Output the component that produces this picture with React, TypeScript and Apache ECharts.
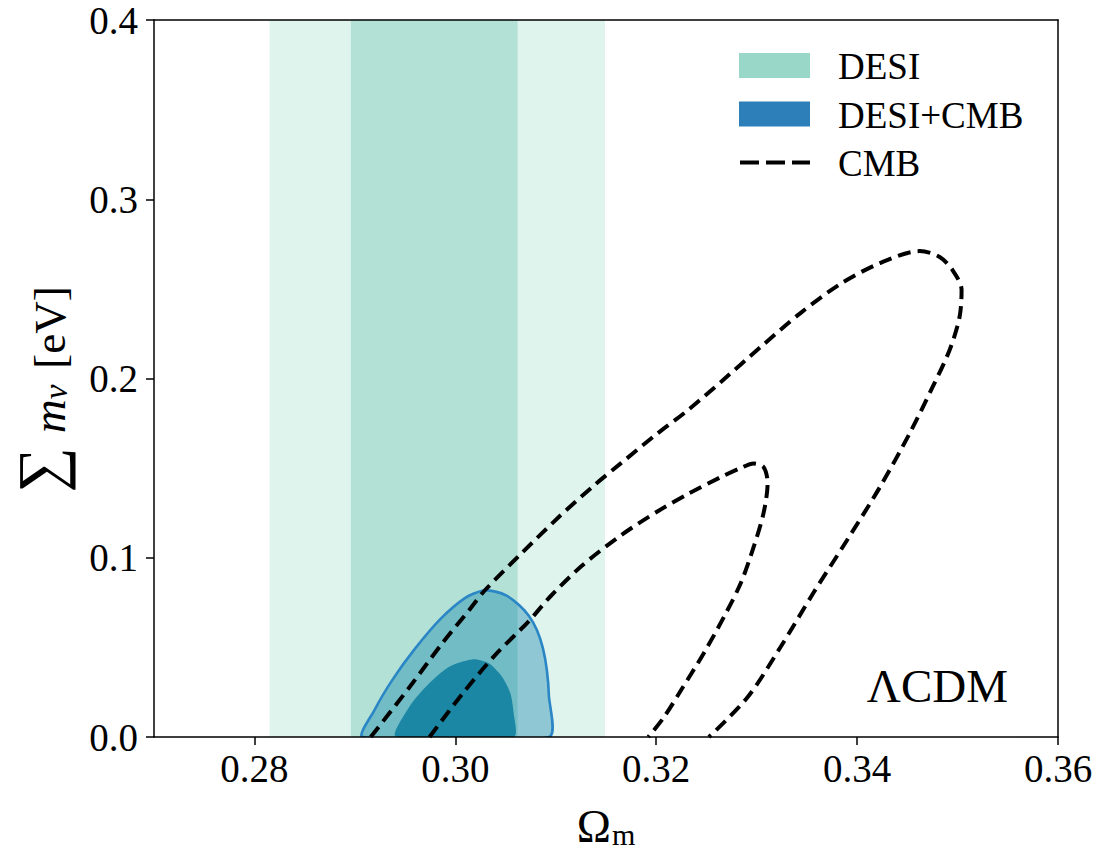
import React, { useEffect, useRef } from "react";
import * as echarts from "echarts";

// ---- axis ranges & ticks ----
const X_MIN = 0.27;
const X_MAX = 0.36;
const Y_MIN = 0.0;
const Y_MAX = 0.4;
const X_TICKS = [0.28, 0.3, 0.32, 0.34, 0.36];

// ---- DESI (BAO only) Omega_m bands: [low, high] ----
const desi2Sigma = [0.2815, 0.3149];
const desi1Sigma = [0.2896, 0.3062];

// ---- DESI+CMB contours [Omega_m, sum m_nu] ----
const desiCmbOuter: number[][] = [
  [0.29079, 0.0], [0.29195, 0.015], [0.29375, 0.032], [0.29595, 0.049],
  [0.29855, 0.066], [0.30095, 0.0775], [0.30267, 0.0816], [0.30399, 0.0811],
  [0.30515, 0.0787], [0.30634, 0.0736], [0.30733, 0.0675], [0.30812, 0.0597],
  [0.30871, 0.0497], [0.30911, 0.0374], [0.30931, 0.0234], [0.30931, 0.0],
];
const desiCmbInner: number[][] = [
  [0.29409, 0.0], [0.29542, 0.0169], [0.29706, 0.0281], [0.29938, 0.0392],
  [0.30168, 0.0433], [0.30333, 0.0411], [0.30465, 0.0336], [0.30548, 0.0244],
  [0.30581, 0.0132], [0.30581, 0.0],
];

// ---- CMB-only contours (dashed) ----
const cmbOuter: number[][] = [
  [0.29158, 0.0], [0.29545, 0.0279], [0.29871, 0.0524], [0.30139, 0.0709],
  [0.30297, 0.082], [0.30663, 0.1027], [0.3103, 0.1227], [0.31386, 0.1406],
  [0.31653, 0.1529], [0.3198, 0.1679], [0.32317, 0.1824], [0.32644, 0.1981],
  [0.3304, 0.2176], [0.33436, 0.2365], [0.33832, 0.2527], [0.34228, 0.2644],
  [0.34624, 0.2711], [0.34822, 0.2678], [0.3495, 0.2605], [0.3504, 0.2494],
  [0.3502, 0.2343], [0.34921, 0.2159], [0.34752, 0.1953], [0.34525, 0.1696],
  [0.34228, 0.1395], [0.33901, 0.1099], [0.33564, 0.0803], [0.33238, 0.0502],
  [0.32911, 0.0223], [0.32525, 0.0],
];
const cmbInner: number[][] = [
  [0.29743, 0.0], [0.30069, 0.024], [0.30396, 0.0457], [0.30733, 0.0647],
  [0.30941, 0.0781], [0.31257, 0.0954], [0.31653, 0.1127], [0.3202, 0.1261],
  [0.32317, 0.1356], [0.32644, 0.145], [0.32842, 0.1501], [0.3297, 0.1526],
  [0.33069, 0.1506], [0.33109, 0.1417], [0.33069, 0.125], [0.3297, 0.106],
  [0.32842, 0.0859], [0.32673, 0.0669], [0.32475, 0.0469], [0.32248, 0.0262],
  [0.32079, 0.0112], [0.31921, 0.0],
];

const legendItems = [
  { name: "DESI", kind: "rect", color: "#99d8c9" },
  { name: "DESI+CMB", kind: "rect", color: "#2c7fb8" },
  { name: "CMB", kind: "dash", color: "#000000" },
];
const modelLabel = "ΛCDM";

const FONT = "'Liberation Serif', 'DejaVu Serif', serif";

function bandSeries(range: number[], color: string, z: number) {
  return {
    type: "custom",
    z,
    clip: true,
    silent: true,
    data: [range],
    renderItem: (_p: any, api: any) => {
      const a = api.coord([api.value(0), Y_MAX]);
      const b = api.coord([api.value(1), Y_MIN]);
      return {
        type: "rect",
        shape: { x: a[0], y: a[1], width: b[0] - a[0], height: b[1] - a[1] },
        style: { fill: color },
      };
    },
  };
}

function contourSeries(pts: number[][], style: any, z: number) {
  return {
    type: "custom",
    z,
    clip: true,
    silent: true,
    data: pts.slice(0, 1),
    renderItem: (_p: any, api: any) => ({
      type: "polygon",
      shape: { points: pts.map((p) => api.coord(p)), smooth: 0.25 },
      style,
    }),
  };
}

function dashedSeries(pts: number[][]) {
  return {
    type: "line",
    z: 5,
    data: pts,
    smooth: 0.3,
    symbol: "none",
    silent: true,
    clip: true,
    lineStyle: { color: "#000", width: 4, type: [13, 7] },
  };
}

export default function App() {
  const ref = useRef<HTMLDivElement>(null);
  useEffect(() => {
    if (!ref.current) return;
    const chart = echarts.init(ref.current, undefined, { renderer: "svg" });
    const axisCommon = {
      min: X_MIN,
      max: X_MAX,
      type: "value",
      z: 10,
      splitLine: { show: false },
      axisLine: { show: true, onZero: false, lineStyle: { color: "#000", width: 1.5 } },
    };
    const legendGraphics: any[] = [];
    legendItems.forEach((it, i) => {
      const cy = 65.5 + i * 48.5;
      if (it.kind === "rect") {
        legendGraphics.push({
          type: "rect",
          shape: { x: 739, y: cy - 12.5, width: 71, height: 25 },
          style: { fill: it.color },
        });
      } else {
        legendGraphics.push({
          type: "line",
          shape: { x1: 740, y1: cy, x2: 810, y2: cy },
          style: { stroke: it.color, lineWidth: 4, lineDash: [19, 7] },
        });
      }
      legendGraphics.push({
        type: "text",
        x: 838,
        y: cy + 1,
        style: {
          text: it.name,
          fontFamily: FONT,
          fontSize: 37,
          fill: "#000",
          verticalAlign: "middle",
          align: "left",
        },
      });
    });
    legendGraphics.push({
      type: "text",
      x: 1008,
      y: 686,
      style: {
        text: modelLabel,
        fontFamily: FONT,
        fontSize: 47,
        fill: "#000",
        verticalAlign: "middle",
        align: "right",
      },
    });

    chart.setOption({
      animation: false,
      backgroundColor: "#fff",
      grid: { left: 150, right: 58, top: 20, bottom: 123, containLabel: false },
      xAxis: [
        {
          ...axisCommon,
          position: "bottom",
          name: "{o|Ω}{s|m}",
          nameLocation: "middle",
          nameGap: 60,
          nameTextStyle: {
            rich: {
              o: { fontFamily: FONT, fontSize: 46, color: "#000", verticalAlign: "bottom", lineHeight: 52 },
              s: { fontFamily: FONT, fontSize: 30, color: "#000", verticalAlign: "bottom", lineHeight: 42, padding: [0, 0, 0, 1] },
            },
          },
          axisTick: { show: true, customValues: X_TICKS, length: 8, lineStyle: { color: "#000", width: 1.5 } },
          axisLabel: {
            show: true,
            customValues: X_TICKS,
            margin: 12,
            fontFamily: FONT,
            fontSize: 39,
            color: "#000",
            formatter: (v: number) => v.toFixed(2),
          },
        },
        {
          ...axisCommon,
          position: "top",
          axisTick: { show: false },
          axisLabel: { show: false },
        },
      ],
      yAxis: [
        {
          ...axisCommon,
          min: Y_MIN,
          max: Y_MAX,
          position: "left",
          interval: 0.1,
          name: "{sum|∑}{m|m}{sub|ν}{t|[eV]}",
          nameLocation: "middle",
          nameRotate: 90,
          nameGap: 82,
          nameTextStyle: {
            padding: [0, 22, 0, 0],
            rich: {
              sum: { fontFamily: FONT, fontSize: 64, color: "#000", verticalAlign: "bottom", lineHeight: 64, padding: [0, 14, 0, 0] },
              m: { fontFamily: FONT, fontSize: 47, fontStyle: "italic", color: "#000", verticalAlign: "bottom", lineHeight: 57 },
              sub: { fontFamily: FONT, fontSize: 33, fontStyle: "italic", color: "#000", verticalAlign: "bottom", lineHeight: 46, padding: [0, 16, 0, 0] },
              t: { fontFamily: FONT, fontSize: 45, color: "#000", verticalAlign: "bottom", lineHeight: 57 },
            },
          },
          axisTick: { show: true, length: 8, lineStyle: { color: "#000", width: 1.5 } },
          axisLabel: {
            show: true,
            margin: 16,
            fontFamily: FONT,
            fontSize: 39,
            color: "#000",
            formatter: (v: number) => v.toFixed(1),
          },
        },
        {
          ...axisCommon,
          min: Y_MIN,
          max: Y_MAX,
          position: "right",
          interval: 0.1,
          axisTick: { show: false },
          axisLabel: { show: false },
        },
      ],
      series: [
        bandSeries(desi2Sigma, "#e0f4ee", 1),
        bandSeries(desi1Sigma, "#b3e1d6", 2),
        contourSeries(desiCmbOuter, { fill: "rgba(0,123,167,0.36)", stroke: "#2b86c5", lineWidth: 2.6 }, 3),
        contourSeries(desiCmbInner, { fill: "#1b87a4" }, 4),
        dashedSeries(cmbOuter),
        dashedSeries(cmbInner),
      ],
      graphic: legendGraphics,
    });
    return () => chart.dispose();
  }, []);
  return (
    <div
      ref={ref}
      style={{ position: "fixed", left: 0, top: 0, width: 1116, height: 860, background: "#fff" }}
    />
  );
}
